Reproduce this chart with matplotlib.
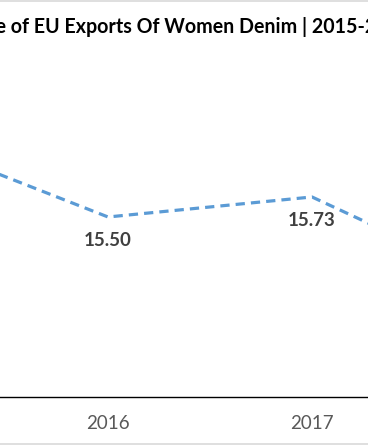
import matplotlib
matplotlib.use('Agg')
import matplotlib.pyplot as plt
from matplotlib.lines import Line2D

# --- Data ---
years = ['2015', '2016', '2017', '2018']
prices = [16.42, 15.50, 15.73, 14.64]
title = 'Average Price of EU Exports Of Women Denim | 2015-2018'

plt.rcParams['font.family'] = ['Lato', 'DejaVu Sans']

W, H = 368, 445
fig = plt.figure(figsize=(W / 100, H / 100), dpi=100)

# axes placed so the view shows the 2016-2017 part of the chart
ax = fig.add_axes([0, 48 / H, 1, 357 / H])
x = list(range(len(years)))
ax.plot(x, prices, color='#5B9BD5', lw=2.3,
        linestyle=(0, (2.9, 1.9)), solid_capstyle='butt')

for xi, v in zip(x, prices):
    ax.annotate('{:.2f}'.format(v), (xi, v), xytext=(0, -17),
                textcoords='offset points', ha='center', va='center',
                fontsize=13.5, fontweight='bold', color='#404040')

ax.set_xticks(x)
ax.set_xticklabels(years, color='#595959', fontsize=13.5)
ax.set_xlim(1 - 108 / 204, 2 + 56 / 204)
ax.set_ylim(13.431, 17.534)
ax.tick_params(axis='x', length=0, pad=13)
ax.set_yticks([])
for s in ['top', 'left', 'right']:
    ax.spines[s].set_visible(False)
ax.spines['bottom'].set_color('black')
ax.spines['bottom'].set_linewidth(1.0)

# title: the visible part starts with "e of EU ..."
prefix = 'Average Pric'
renderer = fig.canvas.get_renderer()
t = fig.text(0, 0, prefix, fontsize=14.1, fontweight='bold')
pw = t.get_window_extent(renderer).width
t.remove()
fig.text((-4 - pw) / W, 1 - 27 / H, title, fontsize=14.1,
         fontweight='bold', color='black', va='center', ha='left')

# chart border (light gray)
fig.add_artist(Line2D([0, 1], [1 - 0.5 / H, 1 - 0.5 / H], color='#d9d9d9', lw=1.2))
fig.add_artist(Line2D([0, 1], [1.5 / H, 1.5 / H], color='#d9d9d9', lw=1.2))

fig.savefig('out.png', dpi=100)
